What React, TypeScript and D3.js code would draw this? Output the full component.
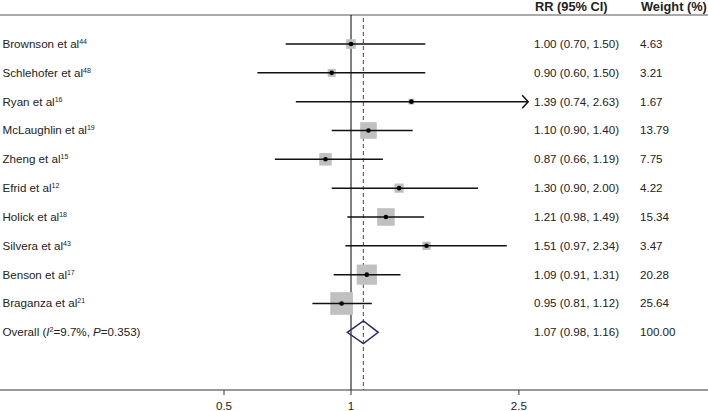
import React from "react";
import * as d3 from "d3";

const studies = ["Brownson et al", "Schlehofer et al", "Ryan et al", "McLaughlin et al", "Zheng et al", "Efrid et al", "Holick et al", "Silvera et al", "Benson et al", "Braganza et al"];
const refs = ["44", "48", "16", "19", "15", "12", "18", "43", "17", "21"];
const rr = [1.0, 0.9, 1.39, 1.1, 0.87, 1.3, 1.21, 1.51, 1.09, 0.95];
const lower = [0.7, 0.6, 0.74, 0.9, 0.66, 0.9, 0.98, 0.97, 0.91, 0.81];
const upper = [1.5, 1.5, 2.63, 1.4, 1.19, 2.0, 1.49, 2.34, 1.31, 1.12];
const weights = [4.63, 3.21, 1.67, 13.79, 7.75, 4.22, 15.34, 3.47, 20.28, 25.64];
const overall = { rr: 1.07, lower: 0.98, upper: 1.16, weight: 100.0 };
const tickValues = [0.5, 1, 2.5];
const tickLabels = ["0.5", "1", "2.5"];
const arrowAbove = 2.5;

const W = 708;
const H = 411;
const font = "'Liberation Sans', Arial, sans-serif";

export default function App() {
  const x = d3.scaleLog().domain([0.5, 2.5]).range([224, 518.9]);
  const y = d3.scaleLinear().domain([0, 10]).range([44, 332.3]);
  const boxSide = (w: number) => 4.48 * Math.sqrt(w);
  const fmt = d3.format(".2f");
  const axisY = 390;
  const topY = 15;
  const txtColor = "#222";
  const colRR = 534;
  const colW = 640;
  const fs = 11.6;

  const oy = y(10);
  const diamond = `M${x(overall.lower)},${oy} L${x(overall.rr)},${oy - 11.3} L${x(overall.upper)},${oy} L${x(overall.rr)},${oy + 11.3} Z`;

  return (
    <svg width={W} height={H} style={{ position: "absolute", left: 0, top: 0, background: "#fff" }} fontFamily={font}>
      <rect x={0} y={0} width={W} height={H} fill="#fff" />
      {/* header */}
      <line x1={0} x2={W} y1={topY} y2={topY} stroke="#555" strokeWidth={1} />
      <text x={colRR + 1} y={10.5} fontSize={12.8} fontWeight="bold" fill={txtColor}>RR (95% CI)</text>
      <text x={colW + 1} y={10.5} fontSize={12.8} fontWeight="bold" fill={txtColor}>Weight (%)</text>

      {/* null line */}
      <line x1={x(1)} x2={x(1)} y1={topY} y2={axisY} stroke="#000" strokeWidth={1} />
      {/* overall dashed line */}
      <line x1={x(overall.rr)} x2={x(overall.rr)} y1={topY + 3} y2={axisY} stroke="#b0484a" strokeWidth={1.2} strokeDasharray="4,3" />

      {studies.map((s, i) => {
        const cy = y(i);
        const side = boxSide(weights[i]);
        const hasArrow = upper[i] > arrowAbove;
        const x2 = x(upper[i]);
        return (
          <g key={s}>
            <rect x={x(rr[i]) - side / 2} y={cy - side / 2} width={side} height={side} fill="#c0c0c0" />
            <line x1={x(lower[i])} x2={x2} y1={cy} y2={cy} stroke="#111" strokeWidth={1.5} />
            {hasArrow && upper[i] > 2.6 && (
              <path d={`M${x2 - 6},${cy - 6.5} L${x2},${cy} L${x2 - 6},${cy + 6.5}`} fill="none" stroke="#111" strokeWidth={1.5} />
            )}
            <circle cx={x(rr[i])} cy={cy} r={2.3} fill="#000" />
            <text x={2.5} y={cy + 4} fontSize={fs} fill={txtColor}>
              {s}
              <tspan fontSize={7} dy={-4}>{refs[i]}</tspan>
            </text>
            <text x={colRR} y={cy + 4} fontSize={fs} fill={txtColor}>
              {`${fmt(rr[i])} (${fmt(lower[i])}, ${fmt(upper[i])})`}
            </text>
            <text x={colW} y={cy + 4} fontSize={fs} fill={txtColor}>{fmt(weights[i])}</text>
          </g>
        );
      })}

      {/* overall */}
      <path d={diamond} fill="none" stroke="#2b2a6e" strokeWidth={1.5} />
      <text x={2.5} y={oy + 4} fontSize={fs} fill={txtColor}>
        Overall (<tspan fontStyle="italic">I</tspan>
        <tspan fontSize={7} dy={-4}>2</tspan>
        <tspan dy={4}>=9.7%, </tspan>
        <tspan fontStyle="italic">P</tspan>=0.353)
      </text>
      <text x={colRR} y={oy + 4} fontSize={fs} fill={txtColor}>
        {`${fmt(overall.rr)} (${fmt(overall.lower)}, ${fmt(overall.upper)})`}
      </text>
      <text x={colW} y={oy + 4} fontSize={fs} fill={txtColor}>{fmt(overall.weight)}</text>

      {/* axis */}
      <line x1={0} x2={W} y1={axisY} y2={axisY} stroke="#333" strokeWidth={1} />
      {tickValues.map((t, i) => (
        <g key={t}>
          <line x1={x(t)} x2={x(t)} y1={axisY} y2={axisY + 5} stroke="#333" strokeWidth={1} />
          <text x={x(t)} y={409.5} fontSize={fs} textAnchor="middle" fill={txtColor}>{tickLabels[i]}</text>
        </g>
      ))}
    </svg>
  );
}
